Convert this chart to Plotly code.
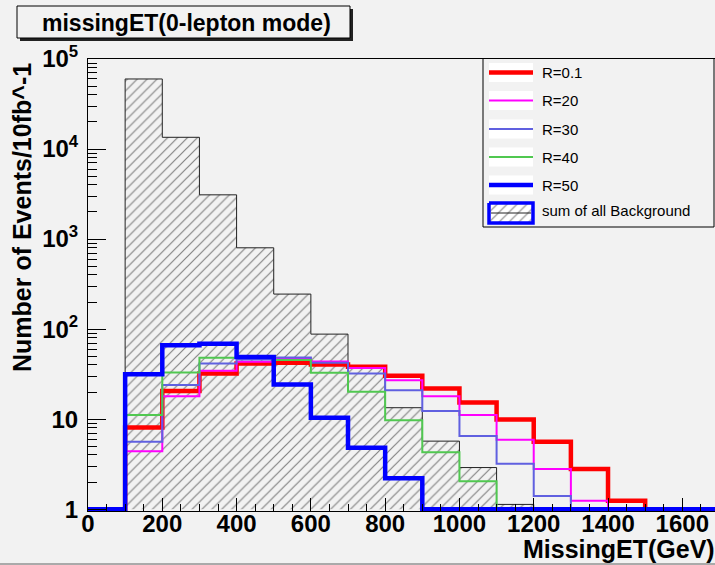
import plotly.graph_objects as go

# ---------------- data ----------------
bin_edges = [0, 100, 200, 300, 400, 500, 600, 700, 800, 900, 1000,
             1100, 1200, 1300, 1400, 1500, 1600, 1700]

background = [0, 60000, 13500, 3100, 800, 245, 88, 36.6, 13.4, 5.7, 2.9,
              1.13, 0, 0, 0, 0, 0]
r_0p1 = [0, 8.1, 20.6, 32.2, 41.6, 42.3, 40.5, 38.1, 30.3, 21.9, 15.3,
         9.9, 5.6, 2.8, 1.24, 0, 0]
r_20 = [0, 4.4, 18.0, 34.4, 43.3, 47.2, 43.8, 37.0, 27.1, 18.0, 11.1,
        5.9, 2.8, 1.24, 0, 0, 0]
r_30 = [0, 5.6, 23.9, 41.6, 46.0, 48.5, 42.3, 32.2, 21.0, 12.3, 6.5,
        3.2, 1.4, 0, 0, 0, 0]
r_40 = [0, 11.1, 33.0, 48.0, 50.0, 45.3, 32.7, 20.1, 9.7, 4.3, 2.05,
        0, 0, 0, 0, 0, 0]
r_50 = [0, 31.6, 66.0, 69.0, 49.0, 24.3, 10.4, 4.8, 2.2, 0, 0,
        0, 0, 0, 0, 0, 0]

series_names = ["R=0.1", "R=20", "R=30", "R=40", "R=50"]
series_values = [r_0p1, r_20, r_30, r_40, r_50]
bkg_name = "sum of all Background"

y_tick_vals = [1, 10, 100, 1000, 10000, 100000]
y_tick_text = ["1", "10", "10<sup>2</sup>", "10<sup>3</sup>", "10<sup>4</sup>", "10<sup>5</sup>"]

title_text = "missingET(0-lepton mode)"
x_title = "MissingET(GeV)"
y_title = "Number of Events/10fb^-1"

# ---------------- style ----------------
series_colors = ["#ff0000", "#ff00ff", "#6060e0", "#50c850", "#0000ff"]
series_widths = [4.5, 2, 2, 2, 4.5]
BG = "#f2f2f2"
FONT = "Liberation Sans, Arial, sans-serif"
W, H = 715, 565
ML, MR, MT, MB = 88, 0, 59, 54
FLOOR = 1.0  # ROOT draws empty bins at the log-axis floor
HATCH = dict(shape="/", size=7, solidity=0.17, fgcolor="#111111")

def px(x):
    return (x - ML) / (W - ML - MR)

def py(y):
    return (H - MB - y) / (H - MT - MB)

fig = go.Figure()

# background: hatched step polygon
bx, by = [], []
nz = [i for i, v in enumerate(background) if v > 0]
first, last = nz[0], nz[-1]
bx.append(bin_edges[first]); by.append(FLOOR)
for i in range(first, last + 1):
    bx += [bin_edges[i], bin_edges[i + 1]]
    by += [background[i], background[i]]
bx.append(bin_edges[last + 1]); by.append(FLOOR)
fig.add_trace(go.Scatter(
    x=bx, y=by, mode="lines", fill="toself",
    fillcolor="rgba(0,0,0,0)",
    fillpattern=dict(HATCH, bgcolor="rgba(0,0,0,0)"),
    line=dict(color="#222222", width=1), name=bkg_name, showlegend=False,
    hoverinfo="skip"))

# signal step lines
for name, vals, col, lw in zip(series_names, series_values, series_colors, series_widths):
    yv = [v if v > 0 else FLOOR for v in vals]
    fig.add_trace(go.Scatter(
        x=bin_edges, y=yv + [yv[-1]], mode="lines",
        line=dict(color=col, width=lw, shape="hv"),
        name=name, showlegend=False))

# ---------- legend (drawn in a pixel-space overlay axis) ----------
shapes = []
annotations = []
shapes.append(dict(type="rect", xref="x2", yref="y2", x0=483, x1=714, y0=58, y1=227,
                   line=dict(color="black", width=1), fillcolor=BG, layer="below"))
entry_y = [72.5, 100.5, 129, 157, 185]
for name, col, lw, yc in zip(series_names, series_colors, series_widths, entry_y):
    shapes.append(dict(type="rect", xref="x2", yref="y2", x0=489, x1=533,
                       y0=yc - 9.5, y1=yc + 9.5, line=dict(width=0),
                       fillcolor="white", layer="above"))
    shapes.append(dict(type="line", xref="x2", yref="y2", x0=489, x1=533,
                       y0=yc, y1=yc, line=dict(color=col, width=lw), layer="above"))
    annotations.append(dict(xref="x2", yref="y2", x=540, y=yc, text=name,
                            showarrow=False, xanchor="left", yanchor="middle",
                            font=dict(family=FONT, size=15, color="black")))
# background legend sample
fig.add_trace(go.Scatter(
    x=[489, 533, 533, 489, 489], y=[203, 203, 223, 223, 203],
    xaxis="x2", yaxis="y2", mode="lines", fill="toself",
    fillcolor="white",
    fillpattern=dict(HATCH, bgcolor="white"),
    line=dict(color="#0000ff", width=3.5), showlegend=False, hoverinfo="skip"))
shapes.append(dict(type="line", xref="x2", yref="y2", x0=491, x1=531, y0=213, y1=213,
                   line=dict(color="#222222", width=1), layer="above"))
annotations.append(dict(xref="x2", yref="y2", x=540, y=210.5, text=bkg_name,
                        showarrow=False, xanchor="left", yanchor="middle",
                        font=dict(family=FONT, size=15, color="black")))

# ---------- title box ----------
shapes.append(dict(type="rect", xref="paper", yref="paper",
                   x0=px(20), x1=px(353), y0=py(41), y1=py(9),
                   line=dict(width=0), fillcolor="#222222"))
shapes.append(dict(type="rect", xref="paper", yref="paper",
                   x0=px(17), x1=px(350), y0=py(38), y1=py(6),
                   line=dict(color="black", width=1), fillcolor=BG))
annotations.append(dict(xref="paper", yref="paper", x=px(186), y=py(23),
                        text=title_text, showarrow=False, xanchor="center",
                        yanchor="middle",
                        font=dict(family=FONT, size=23, color="black", weight="bold")))
# bottom canvas border
shapes.append(dict(type="line", xref="paper", yref="paper", x0=px(0), x1=px(715),
                   y0=py(564), y1=py(564), line=dict(color="#aaaaaa", width=2)))

# axis titles
annotations.append(dict(xref="paper", yref="paper", x=px(22), y=py(218),
                        text=y_title, textangle=-90, showarrow=False,
                        xanchor="center", yanchor="middle",
                        font=dict(family=FONT, size=25, color="black", weight="bold")))
annotations.append(dict(xref="paper", yref="paper", x=px(521), y=py(549),
                        text=x_title, showarrow=False, xanchor="left",
                        yanchor="middle",
                        font=dict(family=FONT, size=25, color="black", weight="bold")))

minor_y = [k * 10 ** d for d in range(0, 5) for k in range(2, 10)]

fig.update_layout(
    width=W, height=H,
    margin=dict(l=ML, r=MR, t=MT, b=MB, pad=0),
    paper_bgcolor=BG, plot_bgcolor=BG,
    showlegend=False,
    shapes=shapes, annotations=annotations,
    xaxis=dict(range=[0, 1688], showline=True, linecolor="black", linewidth=1,
               mirror=True, ticks="inside", ticklen=13, tickcolor="black",
               tickwidth=1, tick0=0, dtick=200, showgrid=False, zeroline=False,
               tickfont=dict(family=FONT, size=24, color="black", weight="bold"),
               ticklabelstandoff=-9,
               minor=dict(dtick=50, tick0=0, ticks="inside", ticklen=7,
                          tickcolor="black", showgrid=False)),
    yaxis=dict(type="log", range=[-0.02, 5], showline=True, linecolor="black",
               linewidth=1, ticks="inside", ticklen=18, tickcolor="black",
               tickwidth=1, tickmode="array", tickvals=y_tick_vals,
               ticktext=y_tick_text, showgrid=False, zeroline=False,
               tickfont=dict(family=FONT, size=24, color="black", weight="bold"),
               ticklabelstandoff=4,
               minor=dict(tickmode="array", tickvals=minor_y, ticks="inside",
                          ticklen=9, tickcolor="black", showgrid=False)),
    xaxis2=dict(overlaying="x", anchor="y2", range=[ML, W - MR], visible=False,
                fixedrange=True),
    yaxis2=dict(overlaying="y", anchor="x2", range=[H - MB, MT], visible=False,
                fixedrange=True),
)

fig.write_html("out.html")
